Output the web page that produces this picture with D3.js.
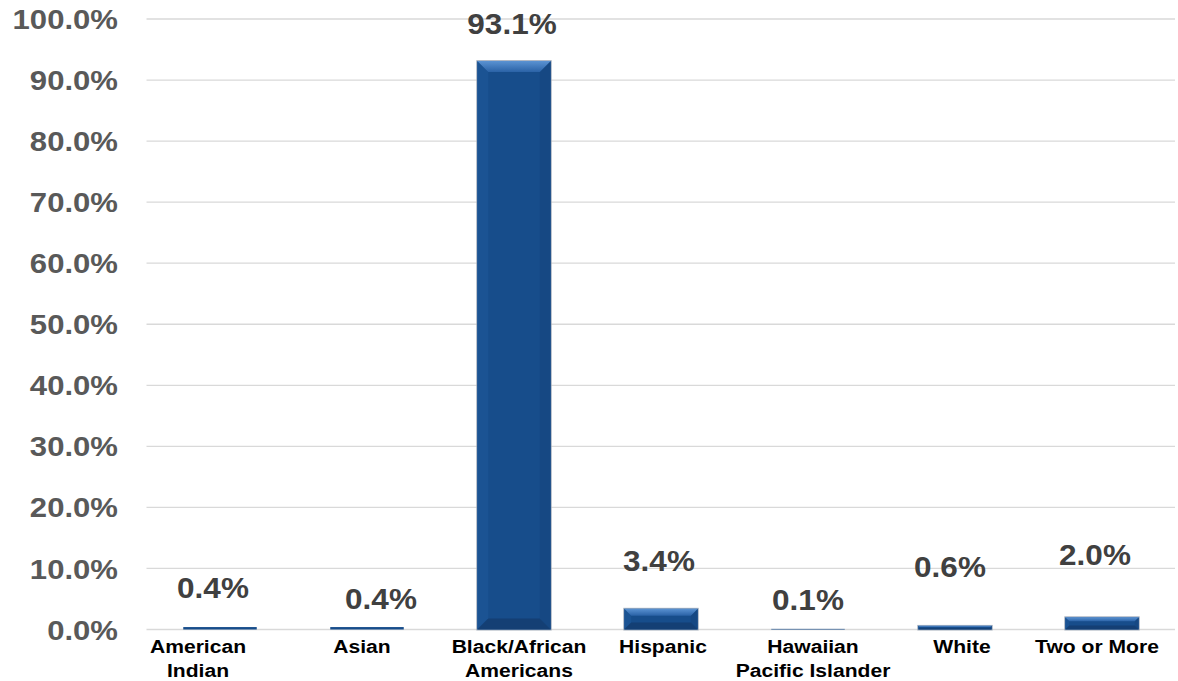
<!DOCTYPE html>
<html>
<head>
<meta charset="utf-8">
<script src="https://cdn.jsdelivr.net/npm/d3@7"></script>
<style>
  html, body { margin: 0; padding: 0; background: #ffffff; }
  svg { display: block; }
  text { font-family: "Liberation Sans", Arial, Helvetica, sans-serif; font-weight: bold; }
</style>
</head>
<body>
<svg id="chart" width="1178" height="681"></svg>
<script>
// ---- data ----
const categories = [
  ["American", "Indian"],
  ["Asian"],
  ["Black/African", "Americans"],
  ["Hispanic"],
  ["Hawaiian", "Pacific Islander"],
  ["White"],
  ["Two or More"]
];
const values = [0.4, 0.4, 93.1, 3.4, 0.1, 0.6, 2.0];
const valueLabels = ["0.4%", "0.4%", "93.1%", "3.4%", "0.1%", "0.6%", "2.0%"];
const yTicks = [0, 10, 20, 30, 40, 50, 60, 70, 80, 90, 100];
const yTickLabels = ["0.0%", "10.0%", "20.0%", "30.0%", "40.0%", "50.0%", "60.0%", "70.0%", "80.0%", "90.0%", "100.0%"];

// ---- layout / style ----
const W = 1178, H = 681;
const plot = { left: 146.5, right: 1175.5, top: 19, bottom: 629.5 };
const stretch = 1.11; // horizontal text stretch seen in the reference
// manual label placement offsets (px, relative to bar centre / bar top)
const valueNudgeX = [-7, 14, -2, -2, 0, -5, -7];
const valueNudgeY = [-29, -18, -27, -38, -19, -49, -52];
const catNudgeX = [-22, -5, 5, 2, 5, 7, -5];

const svg = d3.select("#chart");
const idx = d3.range(values.length);

const x = d3.scaleBand()
  .domain(idx)
  .range([plot.left, plot.right])
  .paddingInner(0.5)
  .paddingOuter(0.25);

const y = d3.scaleLinear()
  .domain([0, 100])
  .range([plot.bottom, plot.top]);

// gridlines
svg.append("g").selectAll("line")
  .data(yTicks)
  .join("line")
  .attr("x1", plot.left)
  .attr("x2", plot.right - 0.5)
  .attr("y1", d => y(d))
  .attr("y2", d => y(d))
  .attr("stroke", "#d9d9d9")
  .attr("stroke-width", 1.3);

// y tick labels
svg.append("g").selectAll("text")
  .data(yTicks)
  .join("text")
  .attr("transform", d => `translate(118,${y(d)}) scale(${stretch},1)`)
  .attr("dy", "0.36em")
  .attr("text-anchor", "end")
  .attr("font-size", 28)
  .attr("fill", "#595959")
  .text((d, i) => yTickLabels[i]);

// gradients
const defs = svg.append("defs");
const gTop = defs.append("linearGradient").attr("id", "gTop").attr("x1", 0).attr("y1", 0).attr("x2", 0).attr("y2", 1);
gTop.append("stop").attr("offset", "0%").attr("stop-color", "#5a92d2");
gTop.append("stop").attr("offset", "100%").attr("stop-color", "#2a62a6");

// bars with bevel
const bars = svg.append("g").selectAll("g")
  .data(idx)
  .join("g");

bars.each(function(i) {
  const g = d3.select(this);
  const x0 = x(i), x1 = x(i) + x.bandwidth();
  const y0 = y(values[i]), y1 = y(0);
  const h = y1 - y0;
  const b = Math.min(11, h / 3);
  // faint outline / shadow
  g.append("rect")
    .attr("x", x0 - 0.5).attr("y", y0 - 0.5)
    .attr("width", x1 - x0 + 1).attr("height", h + 1)
    .attr("fill", "none")
    .attr("stroke", "#9aa5b5")
    .attr("stroke-width", h > 3 ? 0.8 : 0);
  // face
  g.append("rect")
    .attr("x", x0).attr("y", y0)
    .attr("width", x1 - x0).attr("height", h)
    .attr("fill", "#174d8b");
  if (h > 3) {
    // left bevel
    g.append("polygon")
      .attr("points", [[x0, y0], [x0 + b, y0 + b], [x0 + b, y1 - b], [x0, y1]].join(" "))
      .attr("fill", "#1b5393");
    // right bevel
    g.append("polygon")
      .attr("points", [[x1, y0], [x1 - b, y0 + b], [x1 - b, y1 - b], [x1, y1]].join(" "))
      .attr("fill", "#164883");
    // bottom bevel
    g.append("polygon")
      .attr("points", [[x0, y1], [x1, y1], [x1 - b, y1 - b], [x0 + b, y1 - b]].join(" "))
      .attr("fill", "#143f74");
    // top bevel
    g.append("polygon")
      .attr("points", [[x0, y0], [x1, y0], [x1 - b, y0 + b], [x0 + b, y0 + b]].join(" "))
      .attr("fill", "url(#gTop)");
  }
});

// value labels
svg.append("g").selectAll("text")
  .data(idx)
  .join("text")
  .attr("transform", i => `translate(${x(i) + x.bandwidth() / 2 + valueNudgeX[i]},${y(values[i]) + valueNudgeY[i]}) scale(1.05,1)`)
  .attr("text-anchor", "middle")
  .attr("font-size", 30)
  .attr("fill", "#404040")
  .text(i => valueLabels[i]);

// category labels
const cat = svg.append("g").selectAll("g")
  .data(idx)
  .join("g")
  .attr("transform", i => `translate(${x(i) + x.bandwidth() / 2 + catNudgeX[i]},652.5) scale(${stretch},1)`);
cat.selectAll("text")
  .data(i => categories[i])
  .join("text")
  .attr("y", (d, j) => j * 24.5)
  .attr("text-anchor", "middle")
  .attr("font-size", 19)
  .attr("fill", "#000000")
  .text(d => d);
</script>
</body>
</html>
